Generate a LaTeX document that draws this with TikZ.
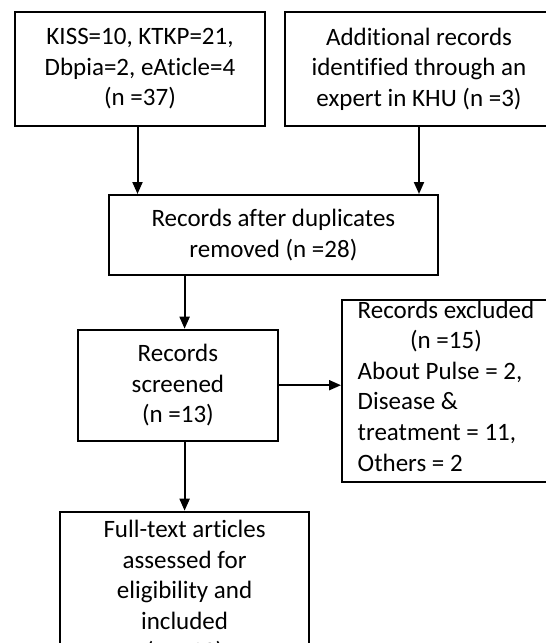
\documentclass[tikz,border=0pt]{standalone}
\usepackage{fontspec}
\usepackage{calc}
\setmainfont[Ligatures=NoCommon]{Carlito}
\usetikzlibrary{arrows.meta}
\begin{document}
\begin{tikzpicture}[x=1pt,y=-1pt,
  txt/.style={align=center, inner sep=0pt, font=\fontsize{25}{30.6}\selectfont},
  box/.style={txt, draw, line width=2pt},
  arr/.style={line width=2pt, -{Triangle[width=10pt,length=12pt]}}]
\useasboundingbox (0,0) rectangle (546,643);
\clip (0,0) rectangle (546,643);
\fill[white] (0,0) rectangle (546,643);
\node[box, minimum width=249.3pt, minimum height=114pt] (b1) at (140,69)
  {KISS=10, KTKP=21,\\Dbpia=2, eAticle=4\\(n =37)};
\node[box, minimum width=268.4pt, minimum height=114pt] (b2) at (419,69)
  {Additional records\\identified through an\\expert in KHU (n =3)};
\node[box, minimum width=328.7pt, minimum height=80pt] (b3) at (273.4,235)
  {Records after duplicates\\removed (n =28)};
\node[box, minimum width=199.2pt, minimum height=111pt] (b4) at (177.9,385.2)
  {Records\\screened\\(n =13)};
\node[box, minimum width=248.8pt, minimum height=160pt] (b5) at (184.6,591.7)
  {Full-text articles\\assessed for\\eligibility and\\included\\(n = 13)};
\node[draw, line width=2pt, minimum width=208pt, minimum height=182pt] (b6) at (446,391) {};
\node[txt, align=left] (b6t) at (446,386)
  {Records excluded\\\makebox[\widthof{Records excluded}]{(n =15)}\\About Pulse = 2,\\Disease \&\\treatment = 11,\\Others = 2};
\coordinate (c1) at (137.5,0);
\draw[arr] (b1.south -| c1) -- (b3.north -| c1);
\draw[arr] (b2.south) -- (b3.north -| b2.south);
\draw[arr] (b3.south -| b5.north) -- (b4.north -| b5.north);
\draw[arr] (b4.south -| b5.north) -- (b5.north);
\draw[arr] (b4.east) -- (b4.east -| b6.west);
\end{tikzpicture}
\end{document}
